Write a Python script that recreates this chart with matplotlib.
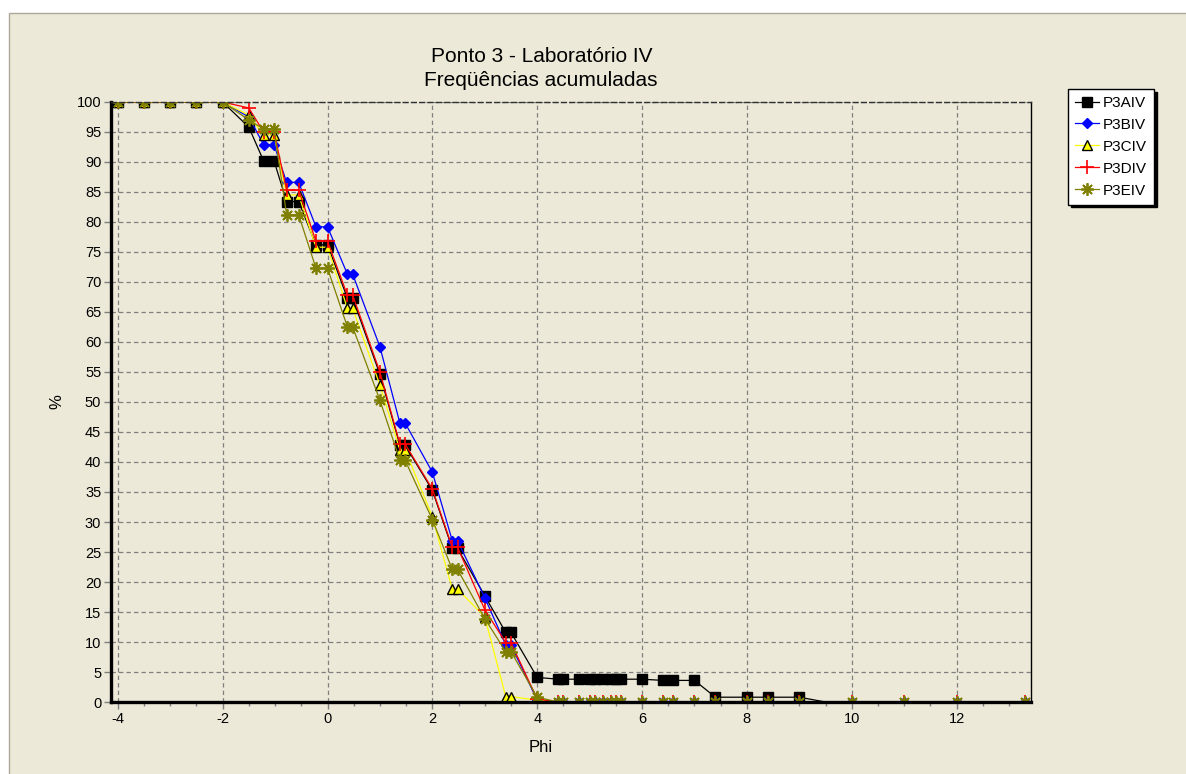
import matplotlib
matplotlib.use("Agg")
import matplotlib.pyplot as plt
from matplotlib.patches import Rectangle
from matplotlib.ticker import MultipleLocator

plt.rcParams['font.family'] = ['Liberation Sans', 'DejaVu Sans']
plt.rcParams['axes.unicode_minus'] = False

# ---------------- data ----------------
phi = [-4, -3.5, -3, -2.5, -2, -1.5, -1.22, -1.02, -0.78, -0.55, -0.22, 0, 0.38, 0.48,
       1.0, 1.38, 1.48, 2.0, 2.38, 2.48, 3.0, 3.4, 3.5, 4.0, 4.4, 4.5,
       4.8, 5.0, 5.1, 5.25, 5.4, 5.5, 5.6, 6.0, 6.4, 6.6, 7.0, 7.4, 8.0, 8.4, 9.0,
       10, 11, 12, 13.3]

phi_a = [-4, -3.5, -3, -2.5, -2, -1.5, -1.22, -1.02, -0.78, -0.55, -0.22, 0, 0.38, 0.48,
         1.0, 1.38, 1.48, 2.0, 2.38, 2.48, 3.0, 3.4, 3.5, 4.0, 4.4, 4.5,
         4.8, 5.0, 5.1, 5.25, 5.4, 5.5, 5.6, 6.0, 6.4, 6.6, 7.0, 7.4, 8.0, 8.4, 9.0,
         9.5]

p3aiv = [100, 100, 100, 100, 100, 95.8, 90.2, 90.2, 83.4, 83.4, 76.2, 76.2, 67.3, 67.3,
         54.6, 42.8, 42.8, 35.3, 25.6, 25.6, 17.7, 11.6, 11.6, 4.1, 3.8, 3.8,
         3.8, 3.8, 3.8, 3.8, 3.8, 3.8, 3.8, 3.8, 3.6, 3.6, 3.6, 0.8, 0.8, 0.8, 0.8,
         0.0]

p3biv = [100, 100, 100, 100, 100, 97.5, 92.9, 92.9, 86.6, 86.6, 79.2, 79.2, 71.3, 71.3,
         59.2, 46.5, 46.5, 38.3, 26.9, 26.9, 17.4, 9.5, 9.5, 0.3, 0, 0,
         0, 0, 0, 0, 0, 0, 0, 0, 0, 0, 0, 0, 0, 0, 0,
         0, 0, 0, 0]

p3civ = [100, 100, 100, 100, 100, 97.8, 94.5, 94.5, 84.5, 84.5, 75.8, 75.8, 65.6, 65.6,
         52.8, 42.0, 42.0, 30.9, 18.8, 18.8, 14.2, 0.9, 0.9, 0.3, 0, 0,
         0, 0, 0, 0, 0, 0, 0, 0, 0, 0, 0, 0, 0, 0, 0,
         0, 0, 0, 0]

p3div = [100, 100, 100, 100, 100, 99.0, 95.0, 95.0, 85.3, 85.3, 76.8, 76.8, 67.8, 67.8,
         55.0, 43.0, 43.0, 35.5, 25.8, 25.8, 15.4, 9.9, 9.9, 0.5, 0, 0,
         0, 0, 0, 0, 0, 0, 0, 0, 0, 0, 0, 0, 0, 0, 0,
         0, 0, 0, 0]

p3eiv = [100, 100, 100, 100, 100, 97.0, 95.5, 95.5, 81.2, 81.2, 72.3, 72.3, 62.5, 62.5,
         50.3, 40.3, 40.3, 30.4, 22.1, 22.1, 13.9, 8.4, 8.4, 0.8, 0, 0,
         0, 0, 0, 0, 0, 0, 0, 0, 0, 0, 0, 0, 0, 0, 0,
         0, 0, 0, 0]

title_lines = ["Ponto 3 - Laboratório IV", "Freqüências acumuladas"]
y_ticks = [0, 5, 10, 15, 20, 25, 30, 35, 40, 45, 50, 55, 60, 65, 70, 75, 80, 85, 90, 95, 100]
x_ticks = [-4, -2, 0, 2, 4, 6, 8, 10, 12]

# ---------------- figure ----------------
W, H = 1186, 774
BG = '#ECE9D8'
fig = plt.figure(figsize=(W / 100, H / 100), dpi=100, facecolor='white')

# outer panel
fig.patches.append(Rectangle((9 / W, -0.01), 1.2, 1 - 13 / H + 0.01, transform=fig.transFigure,
                             facecolor=BG, edgecolor='#ACA899', linewidth=1.0, zorder=-5))

ax = fig.add_axes([111 / W, 1 - 702 / H, (1031 - 111) / W, (702 - 102) / H])
ax.set_zorder(1)
ax.set_facecolor(BG)
ax.set_xlim(-4.13, 13.42)
ax.set_ylim(0, 100)

ax.set_yticks(y_ticks)
ax.set_xticks(x_ticks)
ax.xaxis.set_minor_locator(MultipleLocator(0.5))
ax.tick_params(axis='both', which='major', direction='out', length=5, width=1,
               color='#808080', labelsize=10.5, labelcolor='black', pad=2)
ax.tick_params(axis='x', which='minor', direction='out', length=3, width=1, color='#808080')

ax.grid(True, which='major', color='#808080', linestyle=(0, (3.5, 2.5)), linewidth=0.9)
ax.set_axisbelow(True)

for side in ['left', 'bottom']:
    ax.spines[side].set_linewidth(2.4)
    ax.spines[side].set_color('black')
ax.spines['right'].set_linewidth(1.0)
ax.spines['right'].set_color('black')
ax.spines['top'].set_linewidth(1.0)
ax.spines['top'].set_color('#303030')
ax.spines['top'].set_linestyle((0, (3.5, 2.5)))

lw = 0.9
ax.plot(phi_a, p3aiv, color='black', lw=lw, marker='s', ms=7, mfc='black', mec='black',
        markevery=list(range(len(phi_a) - 1)), label='P3AIV')
ax.plot(phi, p3biv, color='#0000FF', lw=lw, marker='D', ms=5, mfc='#0000FF', mec='#0000FF',
        label='P3BIV')
ax.plot(phi, p3civ, color='#FFFF00', lw=lw, marker='^', ms=7, mfc='#FFFF00', mec='black',
        mew=1.0, label='P3CIV')
ax.plot(phi, p3div, color='#FF0000', lw=lw, marker='+', ms=10, mec='#FF0000', mew=1.2,
        label='P3DIV')
ax.plot(phi, p3eiv, color='#808000', lw=lw, marker=(8, 2, 0), ms=9, mec='#808000', mew=1.3,
        label='P3EIV')

leg = fig.legend(loc='upper left', bbox_to_anchor=(1068 / W, 1 - 89 / H), borderaxespad=0,
                 fontsize=11, frameon=True, fancybox=False, edgecolor='black',
                 facecolor='white', framealpha=1,
                 shadow={'color': 'black', 'alpha': 1.0},
                 handlelength=1.6, handletextpad=0.25, labelspacing=0.52,
                 borderpad=0.45)
leg.get_frame().set_linewidth(1.0)

fig.text(542 / W, 1 - 57 / H, title_lines[0], ha='center', va='center', fontsize=15)
fig.text(541 / W, 1 - 81 / H, title_lines[1], ha='center', va='center', fontsize=15)
fig.text(541 / W, 1 - 747 / H, 'Phi', ha='center', va='center', fontsize=12)
fig.text(57 / W, 1 - 402 / H, '%', ha='center', va='center', fontsize=12, rotation=90)

fig.savefig('out.png', dpi=100, facecolor=fig.get_facecolor())
